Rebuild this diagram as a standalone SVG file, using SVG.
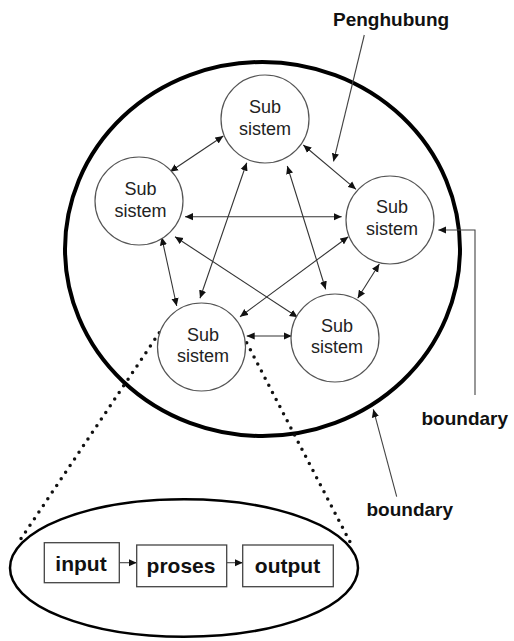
<svg xmlns="http://www.w3.org/2000/svg" width="514" height="641" viewBox="0 0 514 641">
<style>
.sub{fill:#fff;stroke:#555;stroke-width:1.2}
.st{font-family:"Liberation Sans",Arial,sans-serif;font-size:18px;fill:#222;text-anchor:middle}
.lbl{font-family:"Liberation Sans",Arial,sans-serif;font-size:19px;font-weight:bold;fill:#111}
.con{stroke:#333;stroke-width:1.1;fill:none;marker-start:url(#ah);marker-end:url(#ah)}
.one{stroke:#444;stroke-width:1.1;fill:none;marker-end:url(#ah)}
.dot{stroke:#111;stroke-width:3.5;stroke-linecap:round;stroke-dasharray:0 8;fill:none}
.box{fill:#fff;stroke:#444;stroke-width:1.3}
.bt{font-family:"Liberation Sans",Arial,sans-serif;font-size:21px;font-weight:bold;fill:#111;text-anchor:middle}
</style>
<defs>
<marker id="ah" viewBox="0 0 10 10" refX="10" refY="5" markerWidth="8" markerHeight="8" markerUnits="userSpaceOnUse" orient="auto-start-reverse">
<path d="M0,0.5 L10,5 L0,9.5 z" fill="#111"/>
</marker>
</defs>
<rect width="514" height="641" fill="#fff"/>
<g id="boundary-system">
<ellipse cx="262.5" cy="249" rx="197.5" ry="187" fill="none" stroke="#000" stroke-width="4"/>
</g>
<g id="connectors">
<line class="con" x1="223.3" y1="136" x2="170" y2="171.7"/>
<line class="con" x1="303.3" y1="145" x2="356" y2="189.3"/>
<line class="con" x1="185" y1="216.7" x2="341.7" y2="216.7"/>
<line class="con" x1="246.7" y1="162.7" x2="200" y2="298.3"/>
<line class="con" x1="287.3" y1="166" x2="325.7" y2="289.3"/>
<line class="con" x1="161.7" y1="237.3" x2="176.7" y2="306"/>
<line class="con" x1="175" y1="236.7" x2="297.7" y2="317.3"/>
<line class="con" x1="348.3" y1="236.7" x2="240" y2="316.7"/>
<line class="con" x1="379.3" y1="264" x2="357.7" y2="298.3"/>
<line class="con" x1="246.7" y1="336" x2="291.7" y2="336"/>
<line class="one" x1="364.3" y1="35" x2="333.5" y2="161.5"/>
<polyline class="one" stroke="#777" points="475,395 475,230 438.3,230"/>
<line class="one" x1="396.7" y1="496.7" x2="373.3" y2="409.3"/>
<line class="dot" x1="159.3" y1="332.7" x2="18.3" y2="542.7"/>
<line class="dot" x1="246.7" y1="342.7" x2="353.3" y2="548.3"/>
<line class="one" x1="119.3" y1="562.7" x2="136.7" y2="562.7"/>
<line class="one" x1="226.7" y1="562.7" x2="242.7" y2="562.7"/>
</g>
<g id="sub-top">
<circle class="sub" cx="265" cy="119" r="44"/>
<text class="st" x="265" y="113">Sub</text>
<text class="st" x="265" y="135">sistem</text>
</g>
<g id="sub-left">
<circle class="sub" cx="139" cy="201" r="44"/>
<text class="st" x="140.5" y="195">Sub</text>
<text class="st" x="140.5" y="217">sistem</text>
</g>
<g id="sub-right">
<circle class="sub" cx="390" cy="220" r="44"/>
<text class="st" x="392" y="213">Sub</text>
<text class="st" x="392" y="235">sistem</text>
</g>
<g id="sub-bottom-left">
<circle class="sub" cx="201.5" cy="347" r="44"/>
<text class="st" x="203" y="341">Sub</text>
<text class="st" x="203" y="362">sistem</text>
</g>
<g id="sub-bottom-right">
<circle class="sub" cx="335" cy="338" r="44"/>
<text class="st" x="337" y="332">Sub</text>
<text class="st" x="337" y="353">sistem</text>
</g>
<g id="label-penghubung">
<text class="lbl" x="333" y="26">Penghubung</text>
</g>
<g id="label-boundary-right">
<text class="lbl" x="421.5" y="425">boundary</text>
</g>
<g id="label-boundary-bottom">
<text class="lbl" x="366.5" y="516">boundary</text>
</g>
<g id="zoom-ellipse">
<ellipse cx="184" cy="568" rx="174" ry="68.7" fill="none" stroke="#000" stroke-width="2.5"/>
</g>
<g id="box-input">
<rect class="box" x="44.3" y="542.7" width="75" height="40"/>
<text class="bt" x="81" y="571">input</text>
</g>
<g id="box-proses">
<rect class="box" x="136.7" y="545" width="90" height="41.7"/>
<text class="bt" x="181" y="572.5">proses</text>
</g>
<g id="box-output">
<rect class="box" x="242.7" y="545" width="90.6" height="41.7"/>
<text class="bt" x="287.5" y="572.5">output</text>
</g>
</svg>
